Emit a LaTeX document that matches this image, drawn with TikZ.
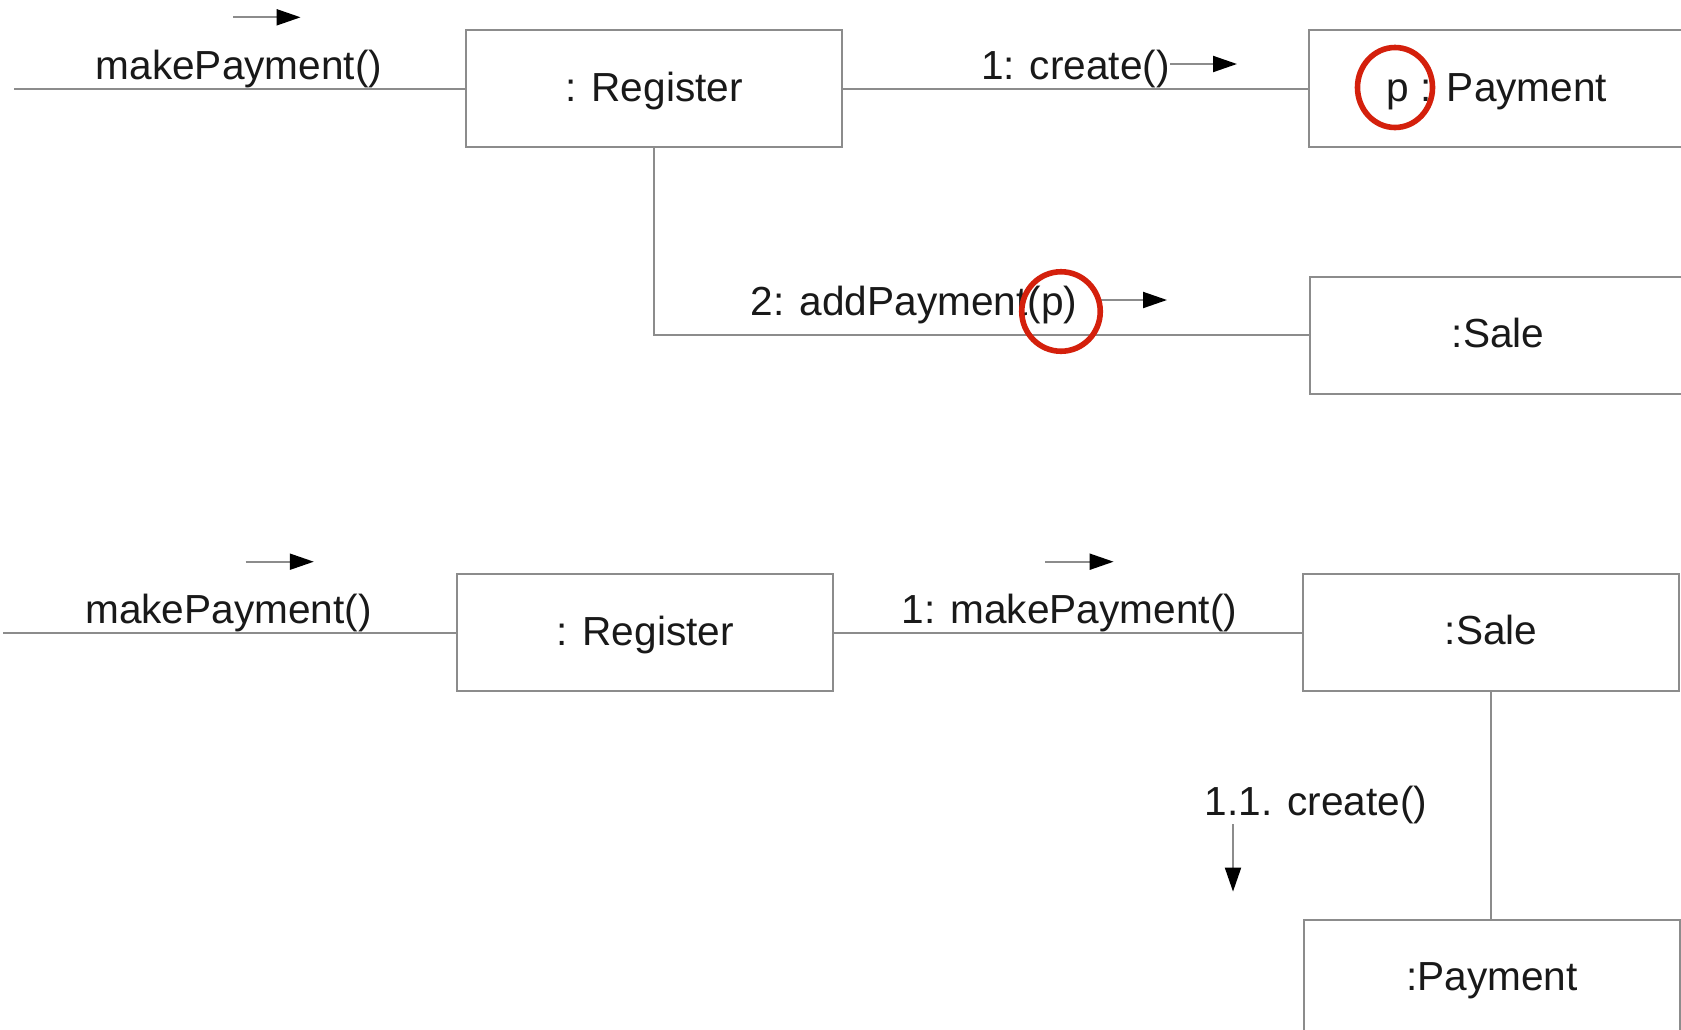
\documentclass[tikz,border=0pt]{standalone}
\usepackage{fontspec}
\setmainfont{Liberation Sans}
\usetikzlibrary{arrows.meta,shapes.geometric}
\definecolor{linegray}{RGB}{140,140,140}
\definecolor{markred}{RGB}{212,32,12}
\begin{document}
\begin{tikzpicture}[x=0.5pt,y=-0.5pt,
  every node/.style={font=\fontsize{20.3pt}{24pt}\selectfont, text=black!90},
  obj/.style={draw=linegray, line width=1pt, minimum width=188pt, minimum height=58.5pt,
              inner sep=0pt, text height=12.5pt, text depth=0pt},
  link/.style={draw=linegray, line width=1pt},
  msg/.style={anchor=base, inner sep=0pt},
  flow/.style={draw=linegray, line width=1pt,
               -{Triangle[length=12pt,width=8pt,color=black]}},
  hilite/.style={ellipse, draw=markred, line width=2.8pt, inner sep=0pt}
]
\useasboundingbox (0,0) rectangle (1681,1029);
\fill[white] (0,0) rectangle (1681,1029);

% ---------- first design: Register creates the Payment ----------
\node[obj] (reg1)  at (654,88.5)  {: Register};
\node[obj] (pay1)  at (1497,88.5) {p : Payment};
\node[obj] (sale1) at (1498,335)  {:Sale};

\coordinate (in1) at (14,88.5);
\draw[link] (in1) -- (reg1.west);
\draw[link] (reg1.east) -- (pay1.west);
\draw[link] (reg1.south) |- (sale1.west);

\node[msg] (m1) at (239,79)    {makePayment()};
\node[msg] (m2) at (1075.4,79) {1: create()};
\node[msg] (m3) at (914,315)   {2: addPayment(p)};

\coordinate (a1s) at (233,17.3);  \coordinate (a1e) at (300.6,17.3);
\coordinate (a2s) at (1170,64);   \coordinate (a2e) at (1237,64);
\coordinate (a3s) at (1100,300);  \coordinate (a3e) at (1167,300);
\draw[flow] (a1s) -- (a1e);
\draw[flow] (a2s) -- (a2e);
\draw[flow] (a3s) -- (a3e);

\node[hilite, minimum width=37.5pt, minimum height=40pt] (h1) at (1395,87.5) {};
\node[hilite, minimum width=39.25pt, minimum height=39.75pt] (h2) at (1061,311.5) {};

% ---------- second design: Sale creates the Payment ----------
\node[obj] (reg2)  at (645,632.5) {: Register};
\node[obj] (sale2) at (1491,632)  {:Sale};
\node[obj] (pay2)  at (1492,978)  {:Payment};

\coordinate (in2) at (3,632.5);
\draw[link] (in2) -- (reg2.west);
\draw[link] (reg2.east) -- (reg2.east -| sale2.west);
\draw[link] (sale2.south) -- (sale2.south |- pay2.north);

\node[msg] (m4) at (228.5,623.3)  {makePayment()};
\node[msg] (m5) at (1069.4,623.3) {1: makePayment()};
\node[msg] (m6) at (1316,815.5)   {1.1. create()};

\coordinate (a4s) at (245.7,561.7); \coordinate (a4e) at (313.8,561.7);
\coordinate (a5s) at (1045,561.7);  \coordinate (a5e) at (1113.6,561.7);
\coordinate (a6s) at (1233,824);    \coordinate (a6e) at (1233,891.6);
\draw[flow] (a4s) -- (a4e);
\draw[flow] (a5s) -- (a5e);
\draw[flow] (a6s) -- (a6e);
\end{tikzpicture}
\end{document}
